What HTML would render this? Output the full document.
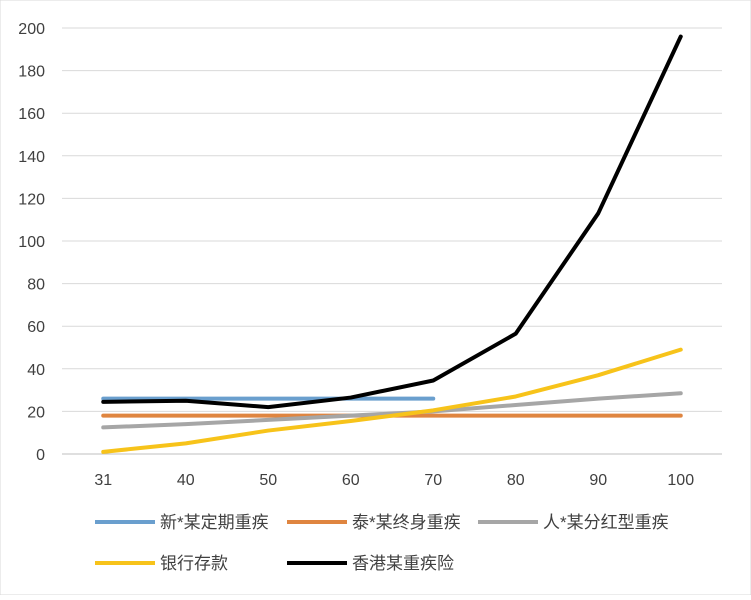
<!DOCTYPE html>
<html><head><meta charset="utf-8"><style>
body{margin:0;background:#fff;}
svg text{font-family:"Liberation Sans","Noto Sans CJK SC",sans-serif;fill:#404040;}
</style></head><body>
<svg id="chart" width="751" height="595" viewBox="0 0 751 595">
<rect width="751" height="595" fill="#fff" stroke="#d9d9d9"/>
<g id="grid"></g><g id="yticks"></g><g id="xticks"></g><g id="series"></g><g id="legend"></g>
</svg>
<script>
const categories=["31","40","50","60","70","80","90","100"];
const yTicks=[0,20,40,60,80,100,120,140,160,180,200];
const seriesNames=["新*某定期重疾","泰*某终身重疾","人*某分红型重疾","银行存款","香港某重疾险"];
const seriesColors=["#6a9fce","#df8540","#a6a6a6","#f7c31a","#000000"];
const s1=[26,26,26,26,26,null,null,null];
const s2=[18,18,18,18,18,18,18,18];
const s3=[12.5,14,16,18,20,23,26,28.5];
const s4=[1,5,11,15.5,20.5,27,37,49];
const s5=[24.5,25,22,26.5,34.5,56.5,113,196];
const seriesData=[s1,s2,s3,s4,s5];
const NS="http://www.w3.org/2000/svg";
const x0=62,x1=722,y0=454,y1=28;
const yS=v=>y0-(v/200)*(y0-y1);
const step=(x1-x0)/categories.length;
const xS=i=>x0+step*(i+0.5);
function mk(t,a,p){const e=document.createElementNS(NS,t);for(const k in a)e.setAttribute(k,a[k]);p.appendChild(e);return e;}
const grid=document.getElementById('grid'),yt=document.getElementById('yticks'),xt=document.getElementById('xticks'),se=document.getElementById('series'),lg=document.getElementById('legend');
yTicks.forEach(v=>{
 const l=mk('line',{x1:x0,x2:x1,y1:yS(v),y2:yS(v),stroke:v===0?'#bfbfbf':'#d9d9d9','stroke-width':1},grid);
 
 
 const t=mk('text',{x:45,y:yS(v)+6,'text-anchor':'end','font-size':16},yt);t.textContent=v;
 
 
});
categories.forEach((c,i)=>{
 const t=mk('text',{x:xS(i),y:485,'text-anchor':'middle','font-size':16},xt);t.textContent=c;
 
 
});
seriesData.forEach((d,si)=>{
 let pts=[];d.forEach((v,i)=>{if(v!==null)pts.push(xS(i)+','+yS(v));});
 const p=mk('polyline',{points:pts.join(' '),fill:'none',stroke:seriesColors[si],'stroke-width':4,'stroke-linejoin':'round','stroke-linecap':'round'},se);
 
 
});
const legPos=[[95,522],[287,522],[478,522],[95,563],[287,563]];
seriesNames.forEach((n,i)=>{
 const [lx,ly]=legPos[i];
 const g=mk('g',{},lg);
 
 
 mk('line',{x1:lx,x2:lx+60,y1:ly,y2:ly,stroke:seriesColors[i],'stroke-width':4},g);
 const t=mk('text',{x:lx+65,y:ly+6,'font-size':17},g);t.textContent=n;
});
</script>
</body></html>
